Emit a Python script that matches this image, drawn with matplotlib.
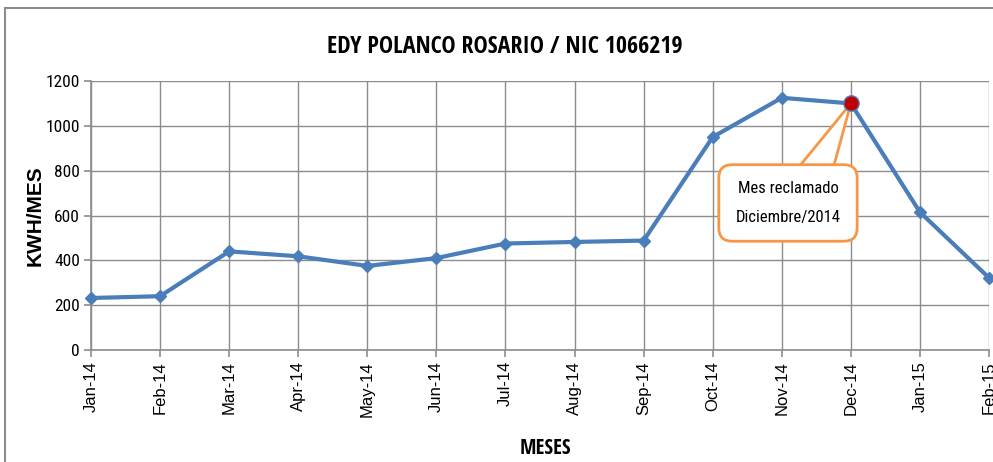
import matplotlib.pyplot as plt
from matplotlib.patches import Rectangle

meses = ['Jan-14', 'Feb-14', 'Mar-14', 'Apr-14', 'May-14', 'Jun-14', 'Jul-14',
         'Aug-14', 'Sep-14', 'Oct-14', 'Nov-14', 'Dec-14', 'Jan-15', 'Feb-15']
kwh = [232, 240, 440, 418, 375, 410, 475, 482, 488, 950, 1125, 1100, 615, 322]
mes_reclamado = 'Dec-14'

fig = plt.figure(figsize=(9.93, 4.62), dpi=100)
fig.patches.append(Rectangle((5 / 993, -0.1), 1.1, (462 - 8) / 462 + 0.1,
                             transform=fig.transFigure, fill=False,
                             edgecolor='#8c8c8c', linewidth=1.5))
ax = fig.add_axes([91 / 993, (462 - 350) / 462, (989 - 91) / 993, (350 - 81) / 462])

x = list(range(len(meses)))
ax.plot(x, kwh, color='#4a7ebb', linewidth=3, marker='D', markersize=6,
        zorder=3, clip_on=False)
i = meses.index(mes_reclamado)
ax.plot(x[i], kwh[i], marker='o', markersize=11, color='#c00000',
        markeredgecolor='#4a7ebb', markeredgewidth=1, zorder=7)

ax.set_xlim(0, len(meses) - 1)
ax.set_ylim(0, 1200)
ax.set_yticks(range(0, 1201, 200))
ax.set_xticks(x)
ax.set_xticklabels(meses, rotation=90, fontsize=12, family='Liberation Sans')
for t in ax.get_yticklabels():
    t.set_family('Roboto Condensed')
    t.set_fontsize(12.5)
ax.grid(True, color='#8c8c8c', linewidth=1)
ax.set_axisbelow(True)
for s in ['top', 'right']:
    ax.spines[s].set_visible(False)
for s in ['left', 'bottom']:
    ax.spines[s].set_color('#8c8c8c')
    ax.spines[s].set_linewidth(1.2)
ax.tick_params(color='#8c8c8c', length=5, width=1.2, pad=3)

fig.text(0.508, 0.898, 'EDY POLANCO ROSARIO / NIC 1066219', ha='center', va='center',
         fontsize=17.3, fontweight='bold', family='Open Sans Condensed')
ax.set_ylabel('KWH/MES', fontsize=15, fontweight='bold', family='Liberation Sans')
ax.yaxis.set_label_coords(-0.052, 0.5)
fig.text(0.549, 0.03, 'MESES', ha='center', va='center', fontsize=15,
         fontweight='bold', family='Open Sans Condensed')

# callout: pointer wedge + rounded box
tx, ty = 10.09, 656
ax.fill([tx + 0.13, x[i], tx + 0.65], [ty + 150, kwh[i], ty + 150], fc='white',
        ec='#f79646', lw=2, zorder=5, joinstyle='miter')
ax.text(tx, ty, 'Mes reclamado\nDiciembre/2014', ha='center', va='center',
        fontsize=12, family='Roboto Condensed', linespacing=2.1, zorder=6,
        bbox=dict(boxstyle='round,pad=1.0,rounding_size=0.8', fc='white',
                  ec='#f79646', lw=2))

fig.savefig('out.png', dpi=100)
